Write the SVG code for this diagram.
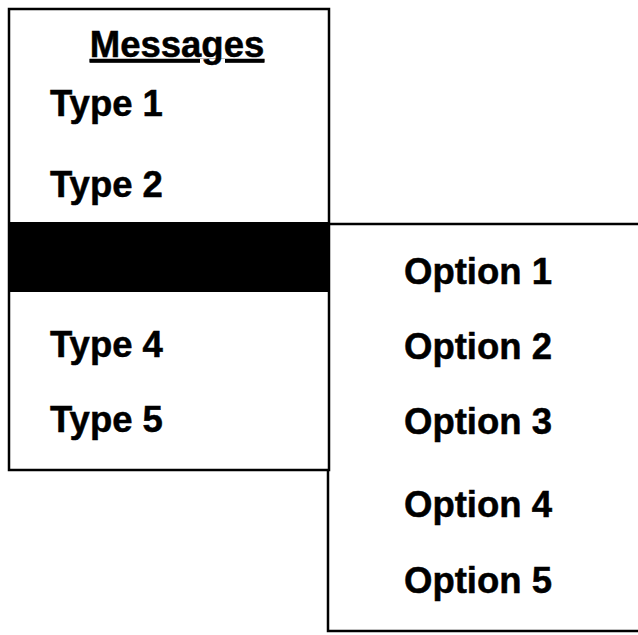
<svg xmlns="http://www.w3.org/2000/svg" width="638" height="635" viewBox="0 0 638 635">
<style>
.t{font-family:"Liberation Sans",Arial,sans-serif;font-weight:bold;font-size:36.5px;fill:#000;stroke:#000;stroke-width:0.5}
.b{fill:none;stroke:#000;stroke-width:2.5}
</style>
<rect width="638" height="635" fill="#fff"/>
<g id="submenu">
<polyline class="b" points="330,224 638,224"/>
<polyline class="b" points="328,470 328,631 638,631"/>
<text class="t" x="404" y="284">Option 1</text>
<text class="t" x="404" y="359">Option 2</text>
<text class="t" x="404" y="434">Option 3</text>
<text class="t" x="404" y="517">Option 4</text>
<text class="t" x="404" y="593">Option 5</text>
</g>
<g id="messages">
<rect class="b" x="9" y="9" width="320" height="461"/>
<rect x="9" y="222" width="320" height="70" fill="#000"/>
<text class="t" x="177" y="57" text-anchor="middle" text-decoration="underline">Messages</text>
<text class="t" x="50" y="116">Type 1</text>
<text class="t" x="50" y="197">Type 2</text>
<text class="t" x="50" y="357">Type 4</text>
<text class="t" x="50" y="432">Type 5</text>
</g>
</svg>
